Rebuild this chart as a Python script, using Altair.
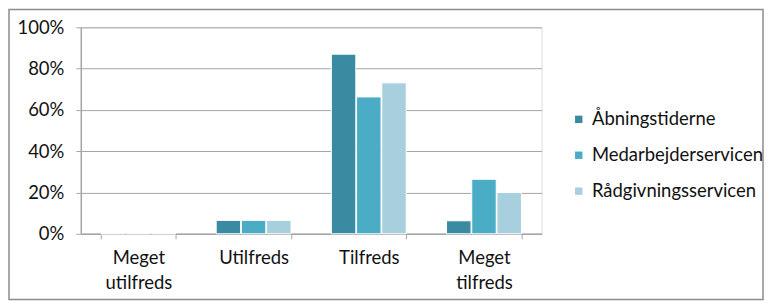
import altair as alt
import pandas as pd

categories = ["Meget utilfreds", "Utilfreds", "Tilfreds", "Meget tilfreds"]
series = ["Åbningstiderne", "Medarbejderservicen", "Rådgivningsservicen"]
aabning = [0.0, 0.065, 0.87, 0.063]
medarbejder = [0.0, 0.065, 0.663, 0.264]
raadgivning = [0.0, 0.065, 0.731, 0.20]
colors = ["#3A8AA1", "#4BACC6", "#A8CFDD"]
y_ticks = [0, 0.2, 0.4, 0.6, 0.8, 1.0]

rows = []
for s, vals in zip(series, [aabning, medarbejder, raadgivning]):
    for c, v in zip(categories, vals):
        rows.append({"kategori": c, "serie": s, "andel": v})
df = pd.DataFrame(rows)

FONT = "Lato"
FS = 18.5
TEXT = "#111111"
GRID = "#a6a6a6"

bars = alt.Chart(df).mark_bar(stroke="white", strokeWidth=1).encode(
    x=alt.X(
        "kategori:N",
        sort=categories,
        scale=alt.Scale(paddingInner=0.35, paddingOuter=0.175),
        axis=alt.Axis(
            title=None,
            labelAngle=0,
            labelExpr="split(datum.label, ' ')",
            labelFontSize=FS,
            labelFont=FONT,
            labelColor=TEXT,
            labelBaseline="top",
            labelLineHeight=25,
            labelPadding=10,
            tickBand="extent",
            tickSize=5,
            tickColor=GRID,
            domainColor=GRID,
            domainWidth=1.5,
            grid=False,
        ),
    ),
    xOffset=alt.XOffset("serie:N", sort=series, scale=alt.Scale(paddingInner=0.03)),
    y=alt.Y(
        "andel:Q",
        scale=alt.Scale(domain=[0, 1]),
        axis=alt.Axis(
            values=y_ticks,
            format="%",
            title=None,
            labelFontSize=FS,
            labelFont=FONT,
            labelColor=TEXT,
            labelPadding=12,
            tickSize=5,
            tickColor=GRID,
            domainColor=GRID,
            domainWidth=1.5,
            grid=True,
            gridColor=GRID,
            gridWidth=1,
        ),
    ),
    color=alt.Color(
        "serie:N",
        sort=series,
        scale=alt.Scale(domain=series, range=colors),
        legend=alt.Legend(
            title=None,
            orient="none",
            legendX=490,
            legendY=83,
            symbolType="square",
            symbolSize=55,
            symbolStrokeWidth=0,
            labelFontSize=FS,
            labelFont=FONT,
            labelColor=TEXT,
            labelOffset=4,
            labelLimit=300,
            rowPadding=17,
        ),
    ),
)

frame = alt.Chart(pd.DataFrame({"f": [0]})).mark_rect(
    filled=False, stroke="#8c8c8c", strokeWidth=1.5
).encode(
    x=alt.value(-72), x2=alt.value(684), y=alt.value(-18), y2=alt.value(273)
)

chart = alt.layer(frame, bars).properties(
    width=462, height=207, padding=0
).configure_view(stroke=None).configure(background="white")

chart.save("out.html", embed_options={"renderer": "svg", "actions": False})
